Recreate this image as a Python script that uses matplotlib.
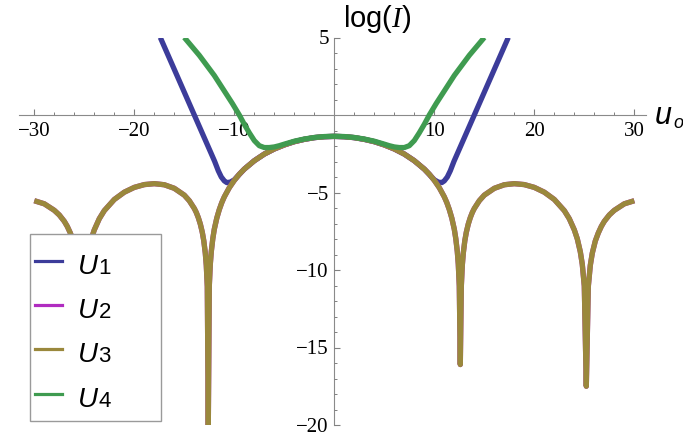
import matplotlib
matplotlib.use("Agg")
import matplotlib.pyplot as plt
from matplotlib.patches import Rectangle
from matplotlib.lines import Line2D

plt.rcParams["mathtext.fontset"] = "custom"
plt.rcParams["mathtext.rm"] = "Liberation Sans"
plt.rcParams["mathtext.it"] = "Liberation Serif:italic"

# ---- data: log(I) versus u_o ----
u3_x = [-30, -29, -28, -27.5, -27, -26.7, -26.4, -26.1, -25.8, -25.6,
        -25.4, -25.2, -25.0, -24.8, -24.6, -24.3, -24, -23.5, -23, -22,
        -21, -20, -19, -18, -17, -16, -15, -14.5, -14, -13.8,
        -13.6, -13.4, -13.2, -13.05, -12.9, -12.8, -12.7, -12.6, -12.5, -12.4,
        -12.3, -12.15, -12, -11.75, -11.5, -11.25, -11, -10.5, -10, -9.5,
        -9, -8, -7, -6, -5, -4, -3, -2, -1,
        0,
        1, 2, 3, 4, 5, 6, 7, 8, 9,
        9.5, 10, 10.5, 11, 11.25, 11.5, 11.75, 12, 12.15, 12.3,
        12.4, 12.5, 12.6, 12.7, 12.8, 12.9, 13.05, 13.2, 13.4, 13.6,
        13.8, 14, 14.5, 15, 16, 17, 18, 19, 20, 21,
        22, 23, 23.5, 24, 24.3, 24.6, 24.8, 25.0, 25.2, 25.4,
        25.6, 25.8, 26.1, 26.4, 26.7, 27, 27.5, 28, 29, 30]
u3_y = [-5.53, -5.73, -6.15, -6.45, -6.86, -7.19, -7.61, -8.13, -8.91, -9.70,
        -11.07, -17.0, -11.03, -9.64, -8.82, -7.99, -7.41, -6.69, -6.17, -5.45,
        -4.98, -4.67, -4.49, -4.43, -4.50, -4.73, -5.17, -5.53, -6.03, -6.29,
        -6.62, -7.03, -7.57, -8.12, -8.91, -9.70, -11.07, -20.0, -11.03, -9.63,
        -8.81, -7.98, -7.37, -6.65, -6.10, -5.65, -5.28, -4.69, -4.22, -3.82,
        -3.49, -2.95, -2.52, -2.19, -1.93, -1.72, -1.57, -1.46, -1.40,
        -1.38,
        -1.40, -1.46, -1.57, -1.72, -1.93, -2.19, -2.52, -2.95, -3.49,
        -3.82, -4.22, -4.69, -5.28, -5.65, -6.10, -6.65, -7.37, -7.98, -8.81,
        -9.63, -11.03, -16.1, -11.07, -9.70, -8.91, -8.12, -7.57, -7.03, -6.62,
        -6.29, -6.03, -5.53, -5.17, -4.73, -4.50, -4.43, -4.49, -4.67, -4.98,
        -5.45, -6.17, -6.69, -7.41, -7.99, -8.82, -9.64, -11.03, -17.5, -11.07,
        -9.70, -8.91, -8.13, -7.61, -7.19, -6.86, -6.45, -6.15, -5.73, -5.53]

# U2 runs along U3 over the whole range
u2_x = list(u3_x)
u2_y = list(u3_y)

u1_x = [-17.4, -15.7, -14.0, -13.32, -12.64, -11.96, -11.6, -11.3, -11.0, -10.75,
        -10.4, -10.0,
        -9, -8, -7, -6, -5, -4, -3, -2, -1, 0,
        1, 2, 3, 4, 5, 6, 7, 8, 9,
        10.0, 10.4, 10.75, 11.0, 11.3, 11.6, 11.96, 12.64, 13.32, 14.0,
        15.7, 17.4]
u1_y = [5.0, 2.5, 0.0, -1.0, -2.0, -3.0, -3.6, -4.0, -4.25, -4.36,
        -4.33, -4.18,
        -3.49, -2.95, -2.52, -2.19, -1.93, -1.72, -1.57, -1.46, -1.40, -1.38,
        -1.40, -1.46, -1.57, -1.72, -1.93, -2.19, -2.52, -2.95, -3.49,
        -4.18, -4.33, -4.36, -4.25, -4.0, -3.6, -3.0, -2.0, -1.0, 0.0,
        2.5, 5.0]

u4_x = [-15, -13.5, -12, -11, -10.2, -9.5, -9, -8.5, -8, -7.5,
        -7, -6.5, -6, -5.5, -5, -4, -3, -2, -1, 0,
        1, 2, 3, 4, 5, 5.5, 6, 6.5, 7, 7.5,
        8, 8.5, 9, 9.5, 10.2, 11, 12, 13.5, 15]
u4_y = [5.0, 3.85, 2.55, 1.55, 0.75, 0.0, -0.6, -1.15, -1.65, -1.98,
        -2.1, -2.1, -2.06, -1.98, -1.88, -1.69, -1.55, -1.45, -1.39, -1.37,
        -1.39, -1.45, -1.55, -1.69, -1.88, -1.98, -2.06, -2.1, -2.1, -1.98,
        -1.65, -1.15, -0.6, 0.0, 0.75, 1.55, 2.55, 3.85, 5.0]

series_names = ["1", "2", "3", "4"]
series_colors = ["#3c3c9a", "#b02cc0", "#9a883c", "#3f9b50"]

x_major = [-30, -20, -10, 10, 20, 30]
x_minor = [v for v in range(-30, 31, 2) if v % 10 != 0]
y_major = [-20, -15, -10, -5, 5]
y_minor = [v for v in range(-20, 6) if v % 5 != 0]

# ---- figure ----
W, H = 683, 437
fig = plt.figure(figsize=(W / 100, H / 100), dpi=100)
ax = fig.add_axes([19.3 / W, 1 - 425 / H, 627 / W, 387.5 / H])
ax.set_xlim(-31.5, 31.2)
ax.set_ylim(-20, 5)

data = [(u1_x, u1_y), (u2_x, u2_y), (u3_x, u3_y), (u4_x, u4_y)]
for i, ((xs, ys), col) in enumerate(zip(data, series_colors)):
    ax.plot(xs, ys, color=col, lw=3.8, solid_joinstyle="round",
            solid_capstyle="butt", zorder=2 + i)

for s in ["top", "right"]:
    ax.spines[s].set_visible(False)
for s in ["left", "bottom"]:
    ax.spines[s].set_position(("data", 0))
    ax.spines[s].set_color("#8a8a8a")
    ax.spines[s].set_linewidth(0.8)
    ax.spines[s].set_zorder(1)

ax.set_xticks(x_major)
ax.set_xticks(x_minor, minor=True)
ax.set_yticks(y_major)
ax.set_yticks(y_minor, minor=True)
ax.tick_params(which="both", direction="in", colors="#808080",
               labelcolor="black", labelsize=15,
               labelfontfamily="Liberation Serif")
ax.tick_params(which="major", length=4.5, width=0.8)
ax.tick_params(which="minor", length=2.5, width=0.7)
ax.tick_params(axis="x", pad=5)
ax.tick_params(axis="y", pad=4)

# axis titles
fig.text(343 / W, 1 - 27 / H, r"$\mathrm{log(}I\mathrm{)}$", fontsize=21,
         va="baseline", ha="left")
fig.text(655 / W, 1 - 124 / H, "u", fontsize=22, fontstyle="italic",
         family="Liberation Sans", va="baseline", ha="left")
fig.text(673.5 / W, 1 - 128 / H, "o", fontsize=13, fontstyle="italic",
         family="Liberation Sans", va="baseline", ha="left")

# legend box
fig.add_artist(Rectangle((29.7 / W, 1 - 421 / H), (160.7 - 29.7) / W,
                         (421 - 234) / H, transform=fig.transFigure,
                         facecolor="white", edgecolor="#9a9a9a", lw=1.0,
                         zorder=5))
row_y = [260.7, 305, 349, 394.3]
for name, col, yy in zip(series_names, series_colors, row_y):
    fig.add_artist(Line2D([35 / W, 62 / W], [1 - yy / H, 1 - yy / H],
                          transform=fig.transFigure, color=col, lw=2.3,
                          zorder=6))
    fig.text(78 / W, 1 - (yy + 13) / H, "U", fontsize=20, fontstyle="italic",
             family="Liberation Sans", va="baseline", ha="left", zorder=6)
    fig.text(98.5 / W, 1 - (yy + 13) / H, name, fontsize=16,
             family="Liberation Sans", va="baseline", ha="left", zorder=6)

fig.savefig("out.png", dpi=100)
